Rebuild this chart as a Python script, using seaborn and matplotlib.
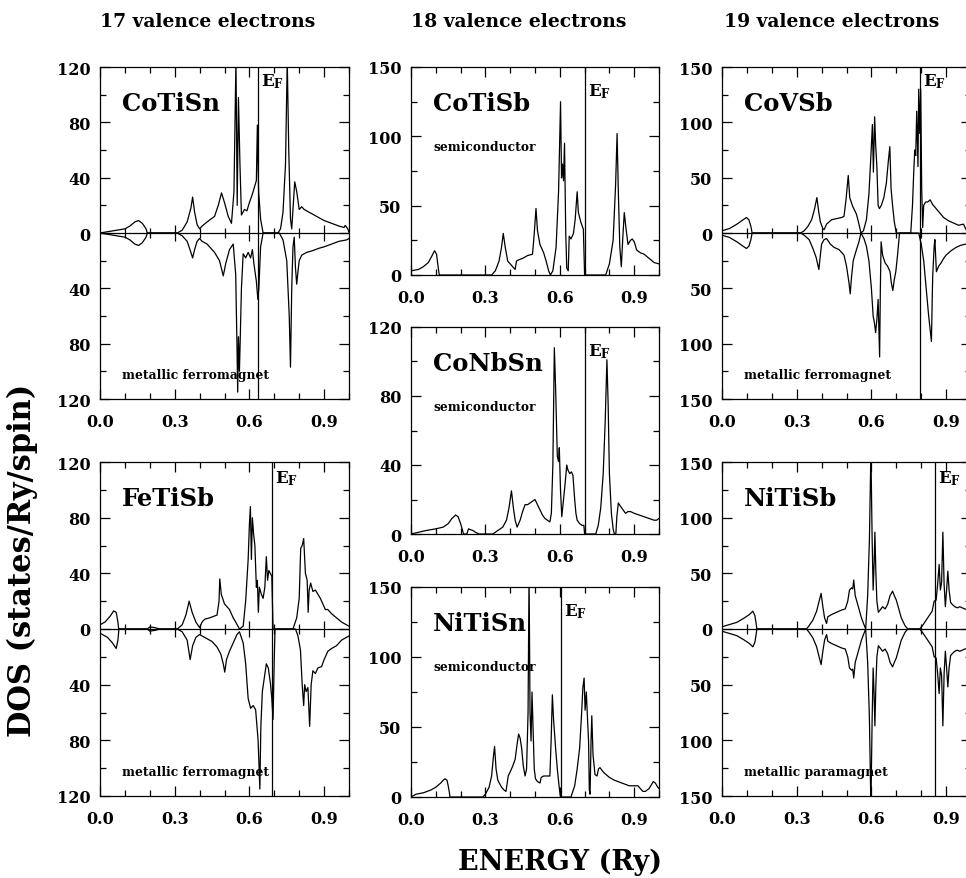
import numpy as np
import seaborn as sns
import matplotlib
matplotlib.use("Agg")
import matplotlib.pyplot as plt
from matplotlib.ticker import MultipleLocator, FuncFormatter

# DOS curves: (energy in Ry, DOS in states/Ry/spin)
# spin down values are kept as magnitudes, drawn below the zero line
cotisn_up = [(0.00, 0), (0.05, 1.5), (0.10, 3), (0.12, 5), (0.14, 8), (0.155, 9), (0.17, 7), (0.185, 3), (0.19, 0),
             (0.31, 0), (0.33, 2), (0.35, 8), (0.365, 18), (0.372, 26), (0.38, 15), (0.39, 6), (0.40, 3), (0.41, 5),
             (0.43, 8), (0.46, 12), (0.475, 20), (0.488, 29), (0.50, 22), (0.515, 12), (0.528, 7), (0.538, 30),
             (0.546, 125), (0.551, 20), (0.556, 98), (0.562, 50), (0.568, 13), (0.58, 17), (0.59, 16), (0.60, 22),
             (0.61, 27), (0.62, 33), (0.628, 38), (0.632, 78), (0.637, 30), (0.645, 10), (0.655, 0),
             (0.715, 0), (0.725, 3), (0.735, 15), (0.745, 50), (0.752, 125), (0.758, 60), (0.765, 10), (0.770, 3),
             (0.776, 20), (0.782, 37), (0.79, 30), (0.80, 17), (0.81, 19), (0.82, 17), (0.85, 14), (0.88, 11),
             (0.90, 9), (0.93, 7), (0.96, 5), (0.98, 4), (0.985, 5.5), (0.995, 3), (1.00, 0.5)]
cotisn_dn = [(0.00, 0), (0.05, 1.5), (0.10, 3), (0.12, 5), (0.14, 8), (0.155, 9), (0.17, 7), (0.185, 3), (0.19, 0),
             (0.31, 0), (0.33, 2), (0.35, 6), (0.365, 14), (0.372, 18), (0.38, 12), (0.39, 6), (0.40, 4), (0.41, 6),
             (0.43, 8), (0.46, 14), (0.48, 20), (0.495, 31), (0.505, 22), (0.52, 12), (0.535, 8), (0.545, 30),
             (0.550, 80), (0.553, 115), (0.556, 75), (0.560, 100), (0.563, 78), (0.568, 40), (0.575, 15),
             (0.585, 18), (0.595, 14), (0.605, 18), (0.612, 12), (0.618, 22), (0.628, 35), (0.634, 48),
             (0.638, 40), (0.645, 10), (0.655, 0),
             (0.72, 0), (0.735, 5), (0.75, 20), (0.76, 60), (0.765, 97), (0.77, 40), (0.775, 10), (0.78, 3),
             (0.785, 25), (0.79, 37), (0.795, 28), (0.80, 20), (0.81, 16), (0.83, 14), (0.85, 13), (0.88, 11),
             (0.90, 10), (0.93, 8), (0.96, 6), (0.99, 5), (1.00, 4)]

fetisb_up = [(0.00, 3), (0.02, 5), (0.04, 9), (0.055, 13), (0.065, 12), (0.072, 5), (0.075, 0),
             (0.19, 0), (0.20, 1.5), (0.22, 1), (0.24, 0),
             (0.31, 0), (0.33, 3), (0.345, 10), (0.358, 20), (0.37, 12), (0.385, 5), (0.40, 1), (0.41, 5),
             (0.42, 7), (0.44, 8), (0.47, 10), (0.478, 20), (0.481, 36), (0.487, 25), (0.50, 18), (0.52, 14),
             (0.535, 8), (0.545, 5), (0.56, 0), (0.575, 2), (0.585, 20), (0.595, 50), (0.600, 75), (0.604, 88),
             (0.608, 50), (0.612, 80), (0.617, 68), (0.622, 60), (0.628, 30), (0.632, 35), (0.636, 12),
             (0.640, 30), (0.648, 25), (0.655, 22), (0.662, 30), (0.668, 52), (0.673, 35), (0.678, 42),
             (0.684, 40), (0.690, 38), (0.695, 0),
             (0.775, 0), (0.79, 8), (0.80, 22), (0.806, 58), (0.812, 60), (0.818, 65), (0.825, 40), (0.832, 35),
             (0.836, 12), (0.840, 28), (0.846, 33), (0.855, 27), (0.865, 28), (0.875, 25), (0.885, 22),
             (0.895, 18), (0.905, 14), (0.915, 14), (0.93, 11), (0.95, 8), (0.97, 5), (0.99, 3), (1.00, 2)]
fetisb_dn = [(0.00, 3), (0.03, 6), (0.05, 10), (0.065, 14), (0.072, 8), (0.076, 0),
             (0.19, 0), (0.20, 1.5), (0.22, 1), (0.24, 0),
             (0.31, 0), (0.33, 2), (0.35, 8), (0.362, 22), (0.372, 12), (0.385, 6), (0.40, 4), (0.42, 6),
             (0.45, 9), (0.47, 13), (0.485, 18), (0.495, 25), (0.501, 31), (0.508, 22), (0.52, 16), (0.535, 10),
             (0.55, 4), (0.56, 2), (0.575, 10), (0.585, 25), (0.595, 50), (0.605, 57), (0.615, 55), (0.625, 58),
             (0.635, 80), (0.642, 115), (0.646, 70), (0.652, 45), (0.66, 35), (0.668, 25), (0.676, 28),
             (0.685, 40), (0.69, 50), (0.695, 65), (0.70, 20), (0.703, 0),
             (0.785, 0), (0.795, 5), (0.805, 15), (0.812, 40), (0.818, 55), (0.822, 40), (0.828, 45),
             (0.835, 42), (0.842, 70), (0.848, 40), (0.855, 30), (0.865, 32), (0.875, 28), (0.89, 27),
             (0.90, 22), (0.915, 16), (0.93, 14), (0.95, 12), (0.97, 8), (1.00, 5)]

cotisb = [(0.00, 3), (0.03, 4), (0.05, 6), (0.07, 9), (0.085, 14), (0.095, 17.5), (0.103, 15), (0.11, 5), (0.114, 0),
          (0.325, 0), (0.34, 3), (0.355, 10), (0.365, 20), (0.372, 30), (0.38, 20), (0.39, 10), (0.40, 8),
          (0.41, 6), (0.42, 4), (0.425, 10), (0.435, 11), (0.45, 12), (0.47, 14), (0.49, 15), (0.497, 30),
          (0.504, 48), (0.51, 32), (0.52, 22), (0.535, 16), (0.545, 10), (0.555, 3), (0.562, 0), (0.572, 3),
          (0.585, 20), (0.595, 60), (0.603, 125), (0.607, 70), (0.611, 80), (0.615, 68), (0.619, 95),
          (0.624, 30), (0.628, 5), (0.634, 3), (0.638, 28), (0.645, 26), (0.655, 30), (0.662, 40), (0.67, 60),
          (0.675, 45), (0.685, 38), (0.695, 33), (0.70, 0),
          (0.785, 0), (0.80, 8), (0.815, 25), (0.825, 65), (0.831, 102), (0.836, 60), (0.842, 20), (0.848, 6),
          (0.855, 30), (0.860, 45), (0.866, 35), (0.875, 22), (0.885, 25), (0.892, 26), (0.90, 24), (0.91, 18),
          (0.925, 16), (0.94, 15), (0.96, 12), (0.98, 9), (1.00, 8)]

conbsn = [(0.00, 0), (0.03, 1), (0.06, 2), (0.10, 3), (0.13, 4), (0.15, 6), (0.165, 9), (0.18, 11), (0.19, 10),
          (0.20, 6), (0.208, 2), (0.212, 0), (0.225, 0), (0.232, 3), (0.24, 2.5), (0.25, 2), (0.26, 1), (0.275, 0),
          (0.33, 0), (0.35, 2), (0.37, 4), (0.385, 8), (0.395, 15), (0.405, 25), (0.413, 15), (0.42, 8),
          (0.428, 4), (0.44, 8), (0.45, 13), (0.46, 17), (0.47, 17), (0.48, 18), (0.49, 19), (0.50, 20),
          (0.51, 17), (0.52, 14), (0.53, 11), (0.54, 9), (0.55, 8), (0.56, 7), (0.566, 12), (0.572, 40),
          (0.578, 108), (0.583, 85), (0.59, 45), (0.595, 42), (0.598, 50), (0.603, 25), (0.608, 10),
          (0.615, 20), (0.622, 30), (0.628, 40), (0.633, 37), (0.64, 35), (0.647, 36), (0.653, 34), (0.66, 20),
          (0.665, 12), (0.67, 8), (0.68, 6), (0.69, 5), (0.697, 5), (0.70, 0),
          (0.745, 0), (0.755, 5), (0.765, 15), (0.775, 35), (0.783, 65), (0.79, 101), (0.795, 75), (0.80, 35),
          (0.808, 12), (0.815, 3), (0.82, 0), (0.826, 0), (0.83, 10), (0.836, 18), (0.845, 16), (0.855, 14),
          (0.865, 12), (0.875, 13), (0.885, 13), (0.90, 12), (0.92, 11), (0.94, 10), (0.96, 9), (0.98, 8),
          (0.99, 8), (1.00, 9)]

nitisn = [(0.00, 0), (0.02, 2), (0.05, 3), (0.08, 5), (0.10, 7), (0.12, 10), (0.13, 12), (0.137, 13), (0.145, 12),
          (0.15, 8), (0.155, 3), (0.157, 0),
          (0.29, 0), (0.30, 2), (0.315, 7), (0.325, 15), (0.333, 30), (0.337, 36), (0.343, 20), (0.35, 12),
          (0.365, 7), (0.375, 5), (0.383, 4), (0.388, 10), (0.392, 15), (0.40, 18), (0.41, 22), (0.42, 27),
          (0.428, 38), (0.434, 45), (0.44, 42), (0.446, 35), (0.453, 22), (0.46, 15), (0.466, 20), (0.472, 60),
          (0.476, 160), (0.480, 60), (0.484, 40), (0.488, 75), (0.492, 50), (0.497, 20), (0.502, 13),
          (0.51, 11), (0.52, 10), (0.525, 14), (0.535, 15), (0.55, 15), (0.56, 15), (0.565, 40), (0.570, 73),
          (0.575, 55), (0.583, 35), (0.59, 20), (0.597, 8), (0.601, 2), (0.603, 0),
          (0.645, 0), (0.66, 8), (0.67, 20), (0.68, 35), (0.688, 60), (0.693, 78), (0.698, 85), (0.702, 62),
          (0.707, 75), (0.712, 55), (0.716, 40), (0.719, 5), (0.722, 2), (0.726, 40), (0.729, 58), (0.734, 30),
          (0.742, 16), (0.75, 15), (0.756, 20), (0.762, 21), (0.77, 19), (0.78, 17), (0.80, 14), (0.82, 12),
          (0.85, 10), (0.88, 8), (0.90, 8), (0.915, 8), (0.925, 6), (0.935, 4), (0.945, 4), (0.96, 6),
          (0.97, 9), (0.977, 11), (0.985, 10), (0.995, 7), (1.00, 6)]

covsb_up = [(0.00, 2), (0.03, 4), (0.06, 8), (0.085, 12), (0.098, 14), (0.108, 12), (0.116, 6), (0.121, 0),
            (0.316, 0), (0.33, 2), (0.345, 6), (0.36, 12), (0.372, 22), (0.381, 32), (0.388, 20), (0.395, 10),
            (0.405, 4), (0.41, 3), (0.42, 8), (0.44, 12), (0.46, 13), (0.48, 14), (0.49, 15), (0.498, 30),
            (0.507, 52), (0.513, 32), (0.525, 24), (0.54, 17), (0.55, 8), (0.558, 0), (0.568, 2), (0.58, 12),
            (0.59, 35), (0.598, 70), (0.604, 98), (0.608, 55), (0.613, 105), (0.617, 80), (0.622, 60),
            (0.627, 25), (0.632, 22), (0.64, 25), (0.65, 32), (0.66, 45), (0.668, 65), (0.674, 78), (0.679, 40),
            (0.685, 25), (0.692, 10), (0.70, 0),
            (0.758, 0), (0.765, 25), (0.770, 55), (0.774, 75), (0.778, 70), (0.782, 110), (0.787, 60),
            (0.790, 130), (0.794, 90), (0.798, 130), (0.802, 40), (0.806, 5), (0.81, 25), (0.818, 28),
            (0.826, 28), (0.836, 30), (0.845, 26), (0.86, 22), (0.875, 18), (0.89, 14), (0.91, 11), (0.93, 9),
            (0.95, 7), (0.97, 8), (0.98, 3), (0.99, 2), (1.00, 1)]
covsb_dn = [(0.00, 2), (0.03, 4), (0.06, 8), (0.085, 12), (0.098, 14), (0.108, 12), (0.116, 6), (0.121, 0),
            (0.316, 0), (0.33, 2), (0.35, 6), (0.365, 14), (0.378, 22), (0.389, 33), (0.395, 20), (0.40, 10),
            (0.41, 6), (0.42, 5), (0.435, 10), (0.45, 13), (0.47, 15), (0.49, 20), (0.50, 30), (0.51, 45),
            (0.515, 55), (0.52, 40), (0.527, 25), (0.54, 15), (0.55, 8), (0.558, 0), (0.57, 5), (0.58, 12),
            (0.59, 25), (0.60, 50), (0.607, 75), (0.612, 81), (0.617, 90), (0.622, 78), (0.627, 60),
            (0.633, 112), (0.636, 50), (0.639, 8), (0.645, 20), (0.655, 27), (0.665, 30), (0.675, 35),
            (0.68, 45), (0.686, 52), (0.692, 42), (0.698, 35), (0.705, 20), (0.713, 0),
            (0.79, 0), (0.80, 10), (0.81, 25), (0.82, 50), (0.83, 75), (0.841, 98), (0.846, 40), (0.852, 12),
            (0.855, 6), (0.861, 35), (0.87, 30), (0.88, 27), (0.89, 23), (0.90, 20), (0.92, 16), (0.94, 13),
            (0.96, 11), (0.98, 10), (1.00, 9)]

# paramagnet: same curve for both spins
nitisb = [(0.00, 2), (0.03, 4), (0.06, 6), (0.09, 10), (0.11, 13), (0.124, 16), (0.132, 12), (0.137, 5), (0.14, 0),
          (0.339, 0), (0.35, 3), (0.365, 8), (0.38, 16), (0.39, 25), (0.398, 32), (0.405, 20), (0.412, 10),
          (0.42, 5), (0.425, 11), (0.44, 13), (0.46, 15), (0.48, 17), (0.495, 18), (0.505, 25), (0.512, 35),
          (0.52, 37), (0.525, 36), (0.529, 44), (0.535, 30), (0.54, 26), (0.55, 18), (0.56, 10), (0.57, 4),
          (0.577, 0), (0.585, 30), (0.592, 80), (0.598, 160), (0.603, 80), (0.607, 35), (0.611, 60),
          (0.614, 87), (0.618, 50), (0.622, 25), (0.628, 15), (0.635, 17), (0.645, 20), (0.655, 18),
          (0.665, 22), (0.675, 30), (0.685, 34), (0.692, 30), (0.70, 26), (0.71, 18), (0.72, 10), (0.735, 3),
          (0.746, 0),
          (0.794, 0), (0.805, 3), (0.82, 8), (0.835, 13), (0.844, 16), (0.852, 25), (0.86, 26), (0.866, 40),
          (0.872, 58), (0.877, 35), (0.882, 42), (0.887, 87), (0.892, 40), (0.897, 20), (0.902, 35),
          (0.907, 52), (0.912, 35), (0.918, 24), (0.925, 22), (0.935, 20), (0.945, 19), (0.955, 20),
          (0.965, 19), (0.975, 18), (0.99, 17), (1.00, 16)]

# Fermi energies (Ry)
ef_cotisn, ef_fetisb = 0.636, 0.691
ef_cotisb, ef_conbsn, ef_nitisn = 0.701, 0.701, 0.605
ef_covsb, ef_nitisb = 0.794, 0.855

column_titles = ["17 valence electrons", "18 valence electrons", "19 valence electrons"]

sns.set_theme(style="ticks")
plt.rcParams["font.family"] = ["DejaVu Serif"]
plt.rcParams["font.weight"] = "bold"
plt.rcParams["mathtext.fontset"] = "dejavuserif"
plt.rcParams["axes.linewidth"] = 0.9
plt.rcParams["axes.edgecolor"] = "black"
plt.rcParams["text.color"] = "black"
plt.rcParams["xtick.color"] = "black"
plt.rcParams["ytick.color"] = "black"
plt.rcParams["xtick.labelcolor"] = "black"
plt.rcParams["ytick.labelcolor"] = "black"

W, H = 966, 879
fig = plt.figure(figsize=(W / 100, H / 100), dpi=100)


def add_ax(x0, y0, x1, y1):
    # pixel box of the axes -> figure fraction
    return fig.add_axes([x0 / W, 1 - y1 / H, (x1 - x0) / W, (y1 - y0) / H])


def draw(ax, up, dn, ymax, ystep, ef, name, note, ef_dy):
    spin = dn is not None
    e, d = np.array(up, dtype=float).T
    sns.lineplot(x=e, y=d, ax=ax, color="black", lw=0.9, estimator=None, sort=False)
    if spin:
        e2, d2 = np.array(dn, dtype=float).T
        sns.lineplot(x=e2, y=-d2, ax=ax, color="black", lw=0.9, estimator=None, sort=False)
        ax.axhline(0, color="black", lw=0.9)
        xt = np.arange(1, 10) / 10
        big = np.isclose(xt % 0.3, 0) | np.isclose(xt % 0.3, 0.3)
        ax.plot(xt[~big], np.zeros((~big).sum()), "|", color="black", ms=7, mew=0.9)
        ax.plot(xt[big], np.zeros(big.sum()), "|", color="black", ms=11, mew=0.9)
    ax.axvline(ef, color="black", lw=0.9)

    ax.set_xlim(0, 1)
    ax.set_ylim(-ymax if spin else 0, ymax)
    ax.xaxis.set_major_locator(MultipleLocator(0.3))
    ax.xaxis.set_minor_locator(MultipleLocator(0.1))
    ax.yaxis.set_major_locator(MultipleLocator(ystep))
    ax.yaxis.set_minor_locator(MultipleLocator(ystep / 2))
    ax.xaxis.set_major_formatter(FuncFormatter(lambda v, p: f"{v:.1f}"))
    ax.yaxis.set_major_formatter(FuncFormatter(lambda v, p: f"{abs(v):.0f}"))
    ax.tick_params(which="both", direction="in", top=True, right=True, width=0.9,
                   labelsize=11.5, color="black", labelcolor="black")
    ax.tick_params(which="major", length=7)
    ax.tick_params(which="minor", length=4)
    ax.tick_params(axis="x", pad=10)
    ax.tick_params(axis="y", pad=7)
    for lab in ax.get_xticklabels() + ax.get_yticklabels():
        lab.set_fontweight("bold")
    ax.set_xlabel("")
    ax.set_ylabel("")
    ax.grid(False)

    ax.annotate(name, xy=(0, 1), xycoords="axes fraction", xytext=(22, -43),
                textcoords="offset pixels", fontsize=17.5, fontweight="bold", va="baseline")
    if note == "semiconductor":
        ax.annotate(note, xy=(0, 1), xycoords="axes fraction", xytext=(22, -83),
                    textcoords="offset pixels", fontsize=8.8, fontweight="bold", va="baseline")
    elif note:
        ax.annotate(note, xy=(0, 0), xycoords="axes fraction", xytext=(22, 21),
                    textcoords="offset pixels", fontsize=8.8, fontweight="bold", va="baseline")
    ax.annotate(r"$\mathbf{E_F}$", xy=(ef, 1), xycoords=("data", "axes fraction"), xytext=(3, -ef_dy),
                textcoords="offset pixels", fontsize=12, va="top", ha="left")


ax = add_ax(100, 68, 349, 400)
draw(ax, cotisn_up, cotisn_dn, 120, 40, ef_cotisn, "CoTiSn", "metallic ferromagnet", 4)
ax = add_ax(100, 463, 349, 797)
draw(ax, fetisb_up, fetisb_dn, 120, 40, ef_fetisb, "FeTiSb", "metallic ferromagnet", 6)

ax = add_ax(411, 68, 659, 276)
draw(ax, cotisb, None, 150, 50, ef_cotisb, "CoTiSb", "semiconductor", 14)
ax = add_ax(411, 328, 659, 535)
draw(ax, conbsn, None, 120, 40, ef_conbsn, "CoNbSn", "semiconductor", 14)
ax = add_ax(411, 588, 659, 798)
draw(ax, nitisn, None, 150, 50, ef_nitisn, "NiTiSn", "semiconductor", 14)

ax = add_ax(722, 68, 971, 400)
draw(ax, covsb_up, covsb_dn, 150, 50, ef_covsb, "CoVSb", "metallic ferromagnet", 4)
ax = add_ax(722, 463, 971, 797)
draw(ax, nitisb, nitisb, 150, 50, ef_nitisb, "NiTiSb", "metallic paramagnet", 6)

for x0, title in zip([100, 411, 724], column_titles):
    fig.text(x0 / W, 1 - 27 / H, title, fontsize=13.5, fontweight="bold", ha="left", va="baseline")

fig.text(22 / W, 1 - 560 / H, "DOS (states/Ry/spin)", fontsize=22, fontweight="bold",
         rotation=90, ha="center", va="center")
fig.text(560 / W, 1 - 870 / H, "ENERGY (Ry)", fontsize=19.5, fontweight="bold",
         ha="center", va="baseline")

fig.savefig("out.png", dpi=100, facecolor="white")
